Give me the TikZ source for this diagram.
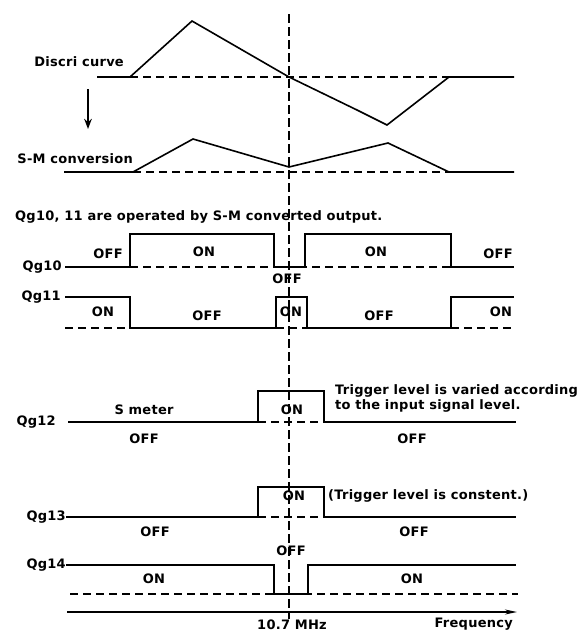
\documentclass[tikz,border=0pt]{standalone}
\usepackage{fontspec}
\setmainfont{DejaVu Sans}[LetterSpace=2]
\usetikzlibrary{arrows.meta}
\tikzset{
  wave/.style={line width=1.6pt},
  zero/.style={line width=1.1pt, dash pattern=on 8pt off 5pt},
  lbl/.style={font=\bfseries\fontsize{13}{15}\selectfont, inner sep=0pt},
}

\begin{document}
\begin{tikzpicture}[x=1pt, y=-1pt, >=Stealth]
    \useasboundingbox (0,0) rectangle (580,632);
    % Centre frequency marker
    \coordinate (ftop) at (289,14);
    \coordinate (fbot) at (289,619);
    \draw[line width=1.1pt, dash pattern=on 9pt off 4pt] (ftop) -- (fbot);
    % Discri curve
    \draw[wave] (97,77) -- (130,77) -- (192,21) -- (289,77) -- (357,110)
        -- (387,125) -- (449,77) -- (514,77);
    \draw[zero] (130,77) -- (449,77);
    \node[lbl, anchor=east] (discri) at (124,62) {Discri curve};
    % Arrow down to the converted curve
    \coordinate (convA) at (88,89);
    \coordinate (convB) at (88,129);
    \draw[->, wave] (convA) -- (convB);
    % S-M conversion
    \draw[wave] (64,172) -- (133,172) -- (193,139) -- (289,167) -- (388,143)
        -- (449,172) -- (514,172);
    \draw[zero] (133,172) -- (449,172);
    \node[lbl, anchor=east] (smconv) at (133,159) {S-M conversion};
    \node[lbl, anchor=west] (title) at (15,217) {Qg10, 11 are operated by S-M converted output.};
    % Qg10
    \node[lbl, anchor=east] (qg10) at (62,267) {Qg10};
    \draw[wave] (qg10.east) ++(3,0) -| (130,234) -| (274,267) -| (305,234)
        -| (451,267) -- (514,267);
    \draw[zero] (130,267) -- (451,267);
    \node[lbl] (q10a) at (108,254) {OFF};
    \node[lbl] (q10b) at (204,252) {ON};
    \node[lbl] (q10c) at (287,279) {OFF};
    \node[lbl] (q10d) at (376,252) {ON};
    \node[lbl] (q10e) at (498,254) {OFF};
    % Qg11
    \node[lbl, anchor=east] (qg11) at (61,297) {Qg11};
    \draw[wave] (qg11.east) ++(4,0) -| (130,328) -| (276,297) -| (307,328)
        -| (451,297) -- (514,297);
    \draw[zero] (65,328) -- (130,328);
    \draw[zero] (276,328) -- (307,328);
    \draw[zero] (451,328) -- (514,328);
    \node[lbl] (q11a) at (103,312) {ON};
    \node[lbl] (q11b) at (207,316) {OFF};
    \node[lbl] (q11c) at (291,312) {ON};
    \node[lbl] (q11d) at (379,316) {OFF};
    \node[lbl] (q11e) at (501,312) {ON};
    % Qg12
    \node[lbl, anchor=east] (qg12) at (56,422) {Qg12};
    \draw[wave] (qg12.east) ++(12,0) -| (258,391) -| (324,422) -- (516,422);
    \draw[zero] (258,422) -- (324,422);
    \node[lbl] (smeter) at (144,410) {S meter};
    \node[lbl] (q12a) at (144,439) {OFF};
    \node[lbl] (q12b) at (292,410) {ON};
    \node[lbl] (q12c) at (412,439) {OFF};
    \node[lbl, anchor=west, align=left] (varied) at (335,398)
        {Trigger level is varied according\\to the input signal level.};
    % Qg13
    \node[lbl, anchor=east] (qg13) at (66,517) {Qg13};
    \draw[wave] (qg13.east) -| (258,487) -| (324,517) -- (516,517);
    \draw[zero] (258,517) -- (324,517);
    \node[lbl] (q13a) at (294,496) {ON};
    \node[lbl, anchor=west] (const) at (328,496) {(Trigger level is constent.)};
    \node[lbl] (q13b) at (155,532) {OFF};
    \node[lbl] (q13c) at (414,532) {OFF};
    % Qg14
    \node[lbl] (q14a) at (291,551) {OFF};
    \node[lbl, anchor=east] (qg14) at (66,565) {Qg14};
    \draw[wave] (qg14.east) -| (274,594) -| (308,565) -- (516,565);
    \draw[zero] (70,594) -- (518,594);
    \node[lbl] (q14b) at (154,579) {ON};
    \node[lbl] (q14c) at (412,579) {ON};
    % Frequency axis
    \coordinate (fstart) at (67,612);
    \coordinate (fend) at (517,612);
    \draw[-{Stealth[length=12pt, width=5pt]}, wave] (fstart) -- (fend);
    \node[lbl, anchor=base] (fc) at (292,629) {10.7 MHz};
    \node[lbl, anchor=base east] (freq) at (513,627) {Frequency};
\end{tikzpicture}
\end{document}
